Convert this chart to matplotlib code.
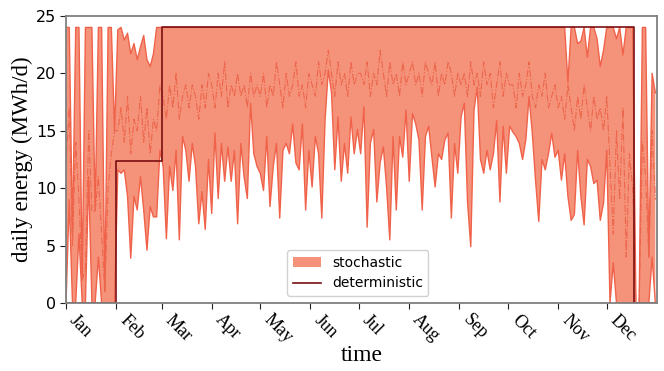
import numpy as np
import matplotlib
matplotlib.use('Agg')
from matplotlib import pyplot as plt
import matplotlib.dates as mdates


### daily energy, sampled every 2nd day of the year (MWh/d)
lower_jan = [0, 9, 0, 0, 6, 0, 0, 11, 0, 0, 4, 0, 0, 0, 0, 0]
lower_feb = [11.6, 11.3, 11.6, 9.3, 3.9, 9.3, 8.1, 11.0, 8.1, 4.6, 8.4, 7.5, 7.5, 13.3]
lower_mar = [11.9, 5.6, 11.9, 9.8, 13.3, 5.5, 14.5, 13.3, 10.6, 13.9, 11.9, 6.9, 9.7, 6.4, 12.5]
lower_apr = [7.8, 14.8, 9.1, 13.9, 10.6, 13.6, 10.6, 13.3, 6.9, 13.9, 11.0, 9.1, 17.4, 13.0, 11.9]
lower_may = [11.3, 9.8, 14.5, 8.4, 11.9, 13.9, 7.4, 13.3, 13.9, 13.0, 15.6, 12.2, 11.6, 15.6, 8.1, 13.3]
lower_jun = [10.1, 14.5, 13.0, 7.4, 15.9, 20.3, 18.3, 11.6, 16.2, 10.6, 13.9, 11.3, 16.2, 13.0, 15.1]
lower_jul = [13.0, 17.1, 6.6, 13.9, 15.1, 8.8, 12.2, 13.6, 10.1, 5.5, 14.5, 8.1, 14.5, 12.7, 16.8, 10.6]
lower_aug = [16.5, 15.6, 14.2, 8.1, 14.5, 15.4, 12.7, 10.1, 13.0, 12.5, 14.2, 14.8, 7.4, 13.9, 11.3, 16.2]
lower_sep = [17.4, 8.8, 4.9, 16.8, 18.8, 12.5, 11.3, 13.3, 11.6, 13.0, 15.9, 8.8, 15.4, 11.3, 15.4]
lower_oct = [14.9, 14.5, 13.9, 12.5, 14.2, 18.0, 14.8, 10.7, 7.1, 12.5, 11.6, 13.0, 14.8, 12.7, 13.3]
lower_nov = [10.7, 13.0, 9.3, 7.2, 7.7, 13.3, 9.3, 6.8, 12.5, 11.9, 10.4, 10.7, 7.2, 8.7, 13.3]
lower_dec = [0, 3.5, 0, 0, 0, 0, 0, 0, 0, 0, 0, 0, 0, 4, 0]

upper_jan = [24, 24, 6, 24, 24, 2, 24, 24, 24, 8, 24, 24, 1, 24, 24, 15]
upper_feb = [23.8, 24, 22.9, 23.5, 21.7, 22.6, 21.2, 22.3, 23.3, 21.2, 20.6, 21.7, 24, 24]
upper_summer = [24.0] * 123   # Mar..Oct: upper bound sits on the 24 MWh/d cap
upper_nov = [24, 24, 19.2, 24, 24, 22.6, 22.8, 24, 21.4, 24, 24, 23, 20.6, 22, 24]
upper_dec = [24, 24, 23.0, 24, 21.6, 24, 24, 24, 0, 0, 24, 24, 4, 20, 18.3]

mid_jan = [12, 17, 5, 14, 9, 19, 3, 15, 8, 18, 11, 6, 16, 10, 13, 15]
mid_feb = [15, 17, 14, 18, 13, 16, 15, 18, 14, 17, 13, 16, 15, 19]
mid_mar = [18, 16, 19, 17, 20, 16, 18, 19, 17, 19, 18, 16, 19, 17, 20]
mid_apr = [19, 17, 20, 18, 21, 17, 19, 18, 20, 18, 19, 17, 20, 18, 19]
mid_may = [18, 20, 17, 19, 18, 21, 19, 17, 20, 18, 19, 21, 18, 19, 17, 20]
mid_jun = [19, 18, 21, 19, 20, 22, 20, 18, 21, 19, 20, 18, 21, 19, 20]
mid_jul = [20, 19, 21, 18, 20, 19, 22, 20, 18, 21, 19, 20, 18, 21, 19, 20]
mid_aug = [21, 19, 20, 18, 21, 20, 19, 21, 18, 20, 19, 21, 20, 18, 20, 19]
mid_sep = [20, 18, 21, 19, 20, 18, 21, 19, 20, 17, 19, 21, 18, 20, 19]
mid_oct = [19, 17, 20, 18, 19, 21, 18, 17, 19, 18, 20, 17, 18, 19, 17]
mid_nov = [18, 16, 19, 17, 15, 18, 16, 19, 17, 15, 18, 16, 17, 15, 18]
mid_dec = [12, 6, 15, 9, 17, 4, 13, 10, 16, 7, 14, 11, 5, 15, 9]

# deterministic schedule (step changes)
det_dates = ['2019-01-01', '2019-02-01', '2019-03-01', '2019-12-18', '2019-12-31']
det_vals = [0, 12.4, 24, 0, 0]

month_ticks = ['2019-%02d-01' % m for m in range(1, 13)]


lower = np.array(lower_jan + lower_feb + lower_mar + lower_apr + lower_may + lower_jun
                 + lower_jul + lower_aug + lower_sep + lower_oct + lower_nov + lower_dec)
upper = np.array(upper_jan + upper_feb + upper_summer + upper_nov + upper_dec)
mid = np.array(mid_jan + mid_feb + mid_mar + mid_apr + mid_may + mid_jun
               + mid_jul + mid_aug + mid_sep + mid_oct + mid_nov + mid_dec)
days = np.datetime64('2019-01-01') + np.arange(len(lower)) * 2
mid = np.minimum(np.maximum(mid, lower), upper)

fig = plt.figure(figsize=(6.64, 3.71), dpi=100)
ax = fig.add_axes([0.0994, 0.1833, 0.89, 0.7737])

fill_c = '#f5937a'
edge_c = '#f0624a'

ax.fill_between(days, lower, upper, facecolor=fill_c, edgecolor='none', label='stochastic')
ax.plot(days, lower, color=edge_c, lw=1.0)
ax.plot(days, upper, color=edge_c, lw=1.0)
ax.plot(days, mid, color='#ec664c', lw=0.8, ls='-.')

ax.plot(np.array(det_dates, dtype='datetime64[D]'), det_vals, drawstyle='steps-post',
        color='#7a0f12', lw=1.2, label='deterministic')

ax.set_xlim(np.datetime64('2019-01-01'), np.datetime64('2020-01-01'))
ax.set_ylim(0, 25)
ax.set_yticks([0, 5, 10, 15, 20, 25])

ax.set_xticks(np.array(month_ticks, dtype='datetime64[D]'))
ax.xaxis.set_major_formatter(mdates.DateFormatter('%b'))
ax.tick_params(axis='x', pad=2)
for lab in ax.get_xticklabels():
    lab.set_rotation(-45)
    lab.set_ha('left')
    lab.set_va('top')
    lab.set_family('Liberation Serif')
    lab.set_fontsize(13)
ax.tick_params(axis='y', labelsize=11.5, pad=3)
ax.tick_params(axis='both', length=4, color='#222222')

for s in ax.spines.values():
    s.set_color('#808080')
    s.set_linewidth(1.3)

ax.set_ylabel('daily energy (MWh/d)', family='Liberation Serif', fontsize=16.5)
ax.yaxis.set_label_coords(-0.056, 0.5)
ax.set_xlabel('time', family='Liberation Serif', fontsize=17)
ax.xaxis.set_label_coords(0.5, -0.148)

ax.legend(loc='lower center', bbox_to_anchor=(0.494, 0.0), fontsize=10, framealpha=0.9)

plt.savefig('out.png', dpi=100)
plt.close()
